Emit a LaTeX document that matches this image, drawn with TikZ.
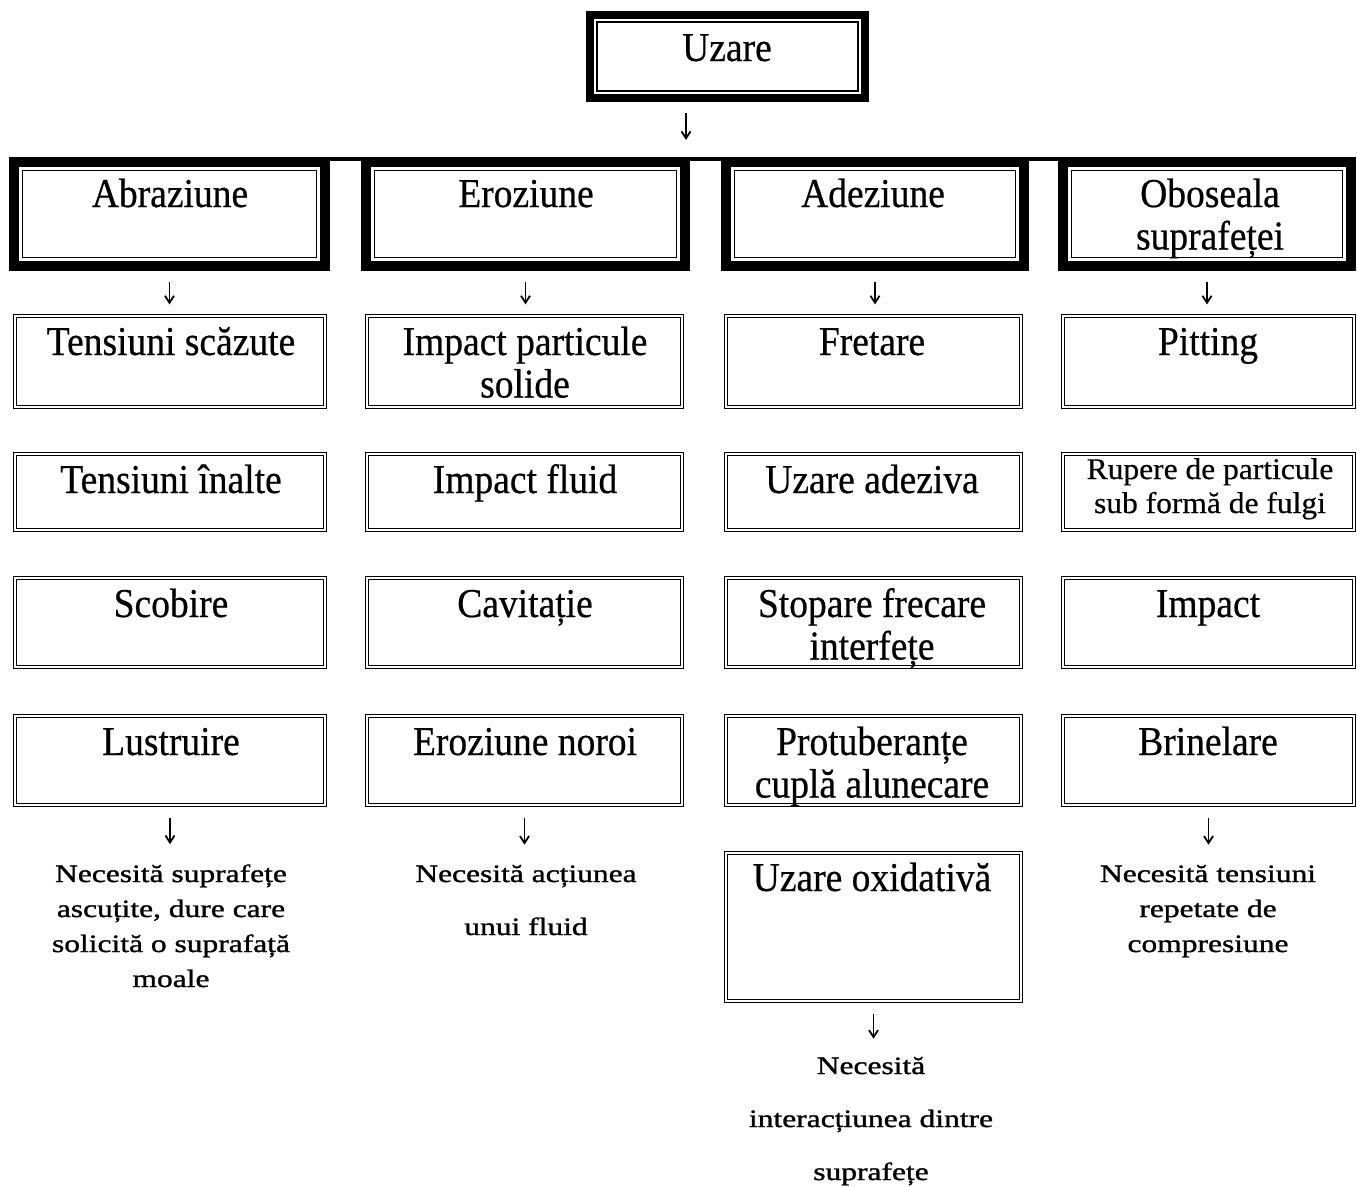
\documentclass[tikz,border=0pt]{standalone}
\usepackage{fontspec}
\setmainfont{Liberation Serif}
\newfontfamily\boxfont{Liberation Serif}[FakeStretch=0.915,FakeBold=0.5]
\newfontfamily\smallfont{Liberation Serif}[FakeStretch=1.05,FakeBold=0.5]
\newfontfamily\notefont{Liberation Serif}[FakeStretch=1.26,FakeBold=1.2]
\usetikzlibrary{arrows.meta}
\begin{document}
\begin{tikzpicture}[x=1pt,y=-1pt,
  heavy/.style={draw, line width=10pt, inner sep=0pt, minimum height=104pt,
    path picture={\draw[line width=1.5pt]
      ([shift={(8.5pt,-8.5pt)}]path picture bounding box.north west) rectangle
      ([shift={(-8.5pt,8.5pt)}]path picture bounding box.south east);}},
  heavytop/.style={draw, line width=8pt, inner sep=0pt,
    path picture={\draw[line width=1.5pt]
      ([shift={(7pt,-7pt)}]path picture bounding box.north west) rectangle
      ([shift={(-7pt,7pt)}]path picture bounding box.south east);}},
  dbl/.style={draw, double, double distance=1.8pt, line width=1.1pt, inner sep=0pt},
  % the anchor "base" of a multi-line text is the baseline of its last line
  big/.style={font={\boxfont\fontsize{41}{42.5}\selectfont}, align=center, inner sep=0pt, anchor=base},
  small/.style={font={\smallfont\fontsize{30}{34}\selectfont}, align=center, inner sep=0pt, anchor=base},
  note/.style={font={\notefont\fontsize{25}{35}\selectfont}, align=center, inner sep=0pt, anchor=base},
  widenote/.style={note, font={\notefont\fontsize{25}{53}\selectfont}},
  arr/.style={-{Straight Barb[length=7pt,width=9pt]}, line width=1.8pt},
  bar/.style={line width=3.5pt}
]
\fill[white] (0,0) rectangle (1357,1186);
\useasboundingbox (0,0) rectangle (1357,1186);

% root
\node[heavytop, minimum width=275pt, minimum height=83pt] (uz) at (727.5,56.5) {};
\node[big] (tuz) at (727,61) {Uzare};
\coordinate (hub) at (686,159);

% four wear families
\node[heavy, minimum width=311pt] (abr) at (169.5,214) {};
\node[heavy, minimum width=319pt] (ero) at (525.5,214) {};
\node[heavy, minimum width=298pt] (ade) at (875,214) {};
\node[heavy, minimum width=288pt] (obo) at (1207,214) {};
\draw[bar] ([yshift=-2pt]abr.north west) -- ([yshift=-2pt]obo.north east);
\node[big] (tabr) at (170,207) {Abraziune};
\node[big] (tero) at (526,207) {Eroziune};
\node[big] (tade) at (873,207) {Adeziune};
\node[big] (tobo) at (1210,249.5) {Oboseala\\suprafeței};

% abrasion column
\node[dbl, minimum width=310pt, minimum height=91pt] (a1) at (170,361.5) {};
\node[dbl, minimum width=310pt, minimum height=76pt] (a2) at (170,492) {};
\node[dbl, minimum width=310pt, minimum height=89pt] (a3) at (170,622.5) {};
\node[dbl, minimum width=310pt, minimum height=89pt] (a4) at (170,760.5) {};
\node[big] (ta1) at (171,355) {Tensiuni scăzute};
\node[big] (ta2) at (171,493) {Tensiuni înalte};
\node[big] (ta3) at (171,617) {Scobire};
\node[big] (ta4) at (171,755) {Lustruire};

% erosion column
\node[dbl, minimum width=315pt, minimum height=91pt] (e1) at (524.5,361.5) {};
\node[dbl, minimum width=315pt, minimum height=76pt] (e2) at (524.5,492) {};
\node[dbl, minimum width=315pt, minimum height=89pt] (e3) at (524.5,622.5) {};
\node[dbl, minimum width=315pt, minimum height=89pt] (e4) at (524.5,760.5) {};
\node[big] (te1) at (525,397.5) {Impact particule\\solide};
\node[big] (te2) at (525,493) {Impact fluid};
\node[big] (te3) at (525,617) {Cavitație};
\node[big] (te4) at (525,755) {Eroziune noroi};

% adhesion column
\node[dbl, minimum width=295pt, minimum height=91pt] (d1) at (873.5,361.5) {};
\node[dbl, minimum width=295pt, minimum height=76pt] (d2) at (873.5,492) {};
\node[dbl, minimum width=295pt, minimum height=89pt] (d3) at (873.5,622.5) {};
\node[dbl, minimum width=295pt, minimum height=89pt] (d4) at (873.5,760.5) {};
\node[dbl, minimum width=295pt, minimum height=148pt] (d5) at (873.5,927) {};
\node[big] (td1) at (872,355) {Fretare};
\node[big] (td2) at (872,493) {Uzare adeziva};
\node[big] (td3) at (872,659.5) {Stopare frecare\\interfețe};
\node[big] (td4) at (872,797.5) {Protuberanțe\\cuplă alunecare};
\node[big] (td5) at (872,891) {Uzare oxidativă};

% surface fatigue column
\node[dbl, minimum width=291pt, minimum height=91pt] (f1) at (1208.5,361.5) {};
\node[dbl, minimum width=291pt, minimum height=76pt] (f2) at (1208.5,492) {};
\node[dbl, minimum width=291pt, minimum height=89pt] (f3) at (1208.5,622.5) {};
\node[dbl, minimum width=291pt, minimum height=89pt] (f4) at (1208.5,760.5) {};
\node[big] (tf1) at (1208,355) {Pitting};
\node[small] (tf2) at (1210,513) {Rupere de particule\\sub formă de fulgi};
\node[big] (tf3) at (1208,617) {Impact};
\node[big] (tf4) at (1208,755) {Brinelare};

% requirements
\node[note] (na) at (171,987) {Necesită suprafețe\\ascuțite, dure care\\solicită o suprafață\\moale};
\node[widenote] (ne) at (526,935) {Necesită acțiunea\\unui fluid};
\node[widenote] (nd) at (871,1180) {Necesită\\interacțiunea dintre\\suprafețe};
\node[note] (nf) at (1208,952) {Necesită tensiuni\\repetate de\\compresiune};

% connectors
\draw[arr, shorten <=11pt, shorten >=19pt] (uz.south -| hub) -- (hub);
\foreach \top/\first in {abr/a1, ero/e1, ade/d1, obo/f1}
  \draw[arr, shorten <=11pt, shorten >=11pt] (\top.south) -- (\top.south |- \first.north);
\foreach \last/\req in {a4/na, e4/ne, f4/nf}
  \draw[arr, shorten <=12pt, shorten >=20pt] (\last.south) -- (\last.south |- \req.north);
\draw[arr, shorten <=12pt, shorten >=18pt] (d5.south) -- (d5.south |- nd.north);
\end{tikzpicture}
\end{document}
